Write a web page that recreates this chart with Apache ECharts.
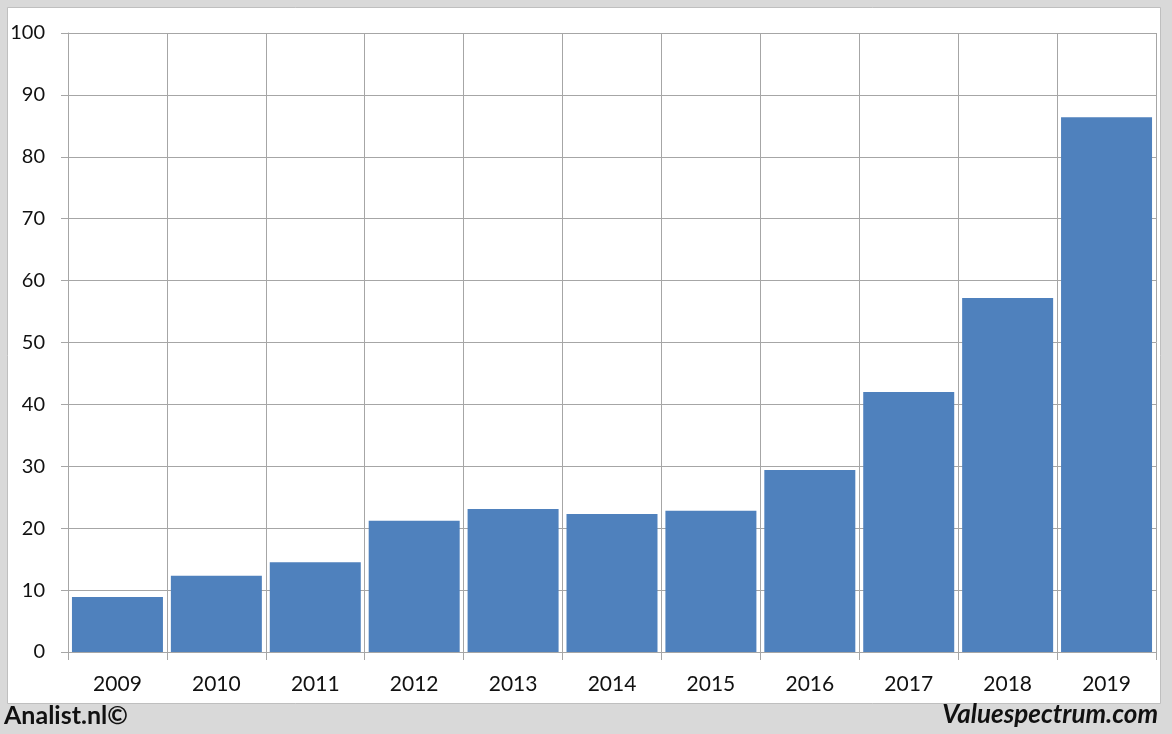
<!DOCTYPE html>
<html><head><meta charset="utf-8">
<script src="https://cdn.jsdelivr.net/npm/echarts@6/dist/echarts.min.js"></script>
<style>html,body{margin:0;padding:0;background:#d9d9d9}#c{width:1172px;height:734px}</style>
</head><body><div id="c"></div>
<script>
const years = ['2009','2010','2011','2012','2013','2014','2015','2016','2017','2018','2019'];
const values = [8.9, 12.3, 14.5, 21.2, 23.1, 22.3, 22.8, 29.4, 42.0, 57.2, 86.4];
const yTicks = [0,10,20,30,40,50,60,70,80,90,100];

const chart = echarts.init(document.getElementById('c'), null, {renderer:'canvas'});
const gridColor = '#a6a6a6';
const font = 'Lato, "Open Sans", sans-serif';
chart.setOption({
  backgroundColor: '#d9d9d9',
  animation: false,
  graphic: [
    {type:'rect', shape:{x:7.5,y:7.5,width:1153,height:696}, style:{fill:'#ffffff', stroke:'#bfbfbf', lineWidth:1}, z:-10},
    {type:'text', left:4, top:703, style:{text:'Analist.nl©', font:'bold 25px '+font, fill:'#111'}},
    {type:'text', right:14, top:702, style:{text:'Valuespectrum.com', font:'italic bold 26px '+font, fill:'#111'}}
  ],
  grid: {left:68, right:16, top:33, bottom:82, show:false},
  xAxis: {
    type:'category', data: years,
    axisLine:{show:true, lineStyle:{color:gridColor}},
    axisTick:{show:true, length:8, lineStyle:{color:gridColor}},
    splitLine:{show:true, lineStyle:{color:gridColor}},
    axisLabel:{color:'#111', fontSize:21, fontFamily:font, margin:22}
  },
  yAxis: {
    type:'value', min:0, max:100, interval:10,
    axisLine:{show:true, lineStyle:{color:gridColor}},
    axisTick:{show:true, length:7, lineStyle:{color:gridColor}},
    splitLine:{show:true, lineStyle:{color:gridColor}},
    axisLabel:{color:'#111', fontSize:20, fontFamily:font, margin:23,
      formatter: v => yTicks.includes(v) ? String(v) : ''}
  },
  series: [{
    type:'bar', data: values, barCategoryGap:'8%',
    itemStyle:{color:'#4f81bd'}
  }]
});
</script></body></html>
